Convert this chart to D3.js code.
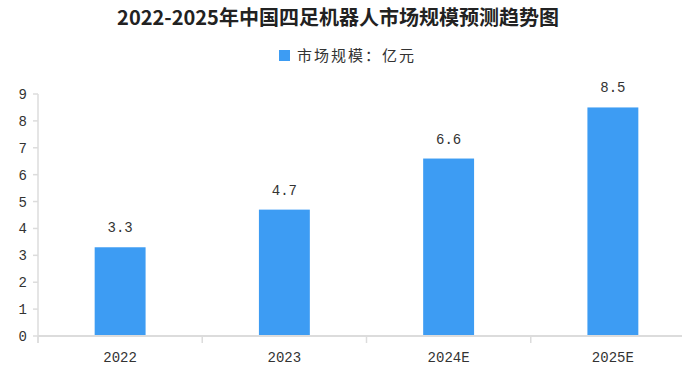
<!DOCTYPE html>
<html>
<head>
<meta charset="utf-8">
<script src="https://cdn.jsdelivr.net/npm/d3@7"></script>
<style>
  body { margin: 0; background: #fff; }
  .chart { width: 682px; height: 373px; overflow: hidden; }
  text { fill: #333; }
</style>
</head>
<body>
<div class="chart"></div>
<script>
// DATA *************************************************************
var titleText = '2022-2025年中国四足机器人市场规模预测趋势图';
var legendLabel = '市场规模：亿元';
var years = ['2022', '2023', '2024E', '2025E'];
var marketSize = [3.3, 4.7, 6.6, 8.5];
var yTicks = [0, 1, 2, 3, 4, 5, 6, 7, 8, 9];

var BAR_COLOR = '#3d9cf3';
var AXIS_COLOR = '#dcdcdc';
var MONO = '"Liberation Mono", "DejaVu Sans Mono", monospace';
var CJK = '"Noto Sans CJK SC", sans-serif';

// MARGINS
var W = 682, H = 373;
var margin = {top: 94, right: -13, bottom: 37, left: 38};
var width = W - margin.left - margin.right,
    height = H - margin.top - margin.bottom;

var svgRoot = d3.select('.chart').append('svg')
    .attr('width', W)
    .attr('height', H);
var svg = svgRoot.append('g')
    .attr('transform', 'translate(' + margin.left + ',' + margin.top + ')');

// SCALES
var xScale = d3.scaleBand()
    .domain(years)
    .range([0, width]);

var yScale = d3.scaleLinear()
    .domain([0, 9])
    .range([height, 0]);

var barW = xScale.bandwidth() * 0.31;

// TITLE + LEGEND
svgRoot.append('text')
    .attr('x', 338).attr('y', 25)
    .attr('text-anchor', 'middle')
    .style('font-family', CJK)
    .style('font-size', '20px')
    .style('font-weight', 'bold')
    .style('fill', '#222')
    .text(titleText);

svgRoot.append('rect')
    .attr('x', 279).attr('y', 50)
    .attr('width', 11).attr('height', 11)
    .attr('fill', BAR_COLOR);
svgRoot.append('text')
    .attr('x', 297).attr('y', 60.5)
    .style('font-family', CJK)
    .style('font-size', '15px')
    .style('letter-spacing', '2px')
    .text(legendLabel);

// AXES
var xAxisG = svg.append('g')
    .attr('transform', 'translate(0,' + height + ')');
xAxisG.append('line')
    .attr('x1', 0).attr('x2', W)
    .attr('stroke', AXIS_COLOR).attr('stroke-width', 2);
xAxisG.selectAll('.tick-b')
    .data(years)
    .enter().append('line')
    .attr('x1', function(d) { return xScale(d); })
    .attr('x2', function(d) { return xScale(d); })
    .attr('y1', 0).attr('y2', 7)
    .attr('stroke', AXIS_COLOR).attr('stroke-width', 1.5);
xAxisG.selectAll('.xlabel')
    .data(years)
    .enter().append('text')
    .attr('x', function(d) { return xScale(d) + xScale.bandwidth() / 2; })
    .attr('y', 26)
    .attr('text-anchor', 'middle')
    .style('font-family', MONO)
    .style('font-size', '14px')
    .text(function(d) { return d; });

var yAxisG = svg.append('g');
yAxisG.append('line')
    .attr('x1', 0).attr('x2', 0)
    .attr('y1', yScale(9)).attr('y2', height + 7)
    .attr('stroke', AXIS_COLOR).attr('stroke-width', 1.5);
yAxisG.selectAll('.tick-l')
    .data(yTicks)
    .enter().append('line')
    .attr('x1', -5).attr('x2', 0)
    .attr('y1', function(d) { return yScale(d); })
    .attr('y2', function(d) { return yScale(d); })
    .attr('stroke', AXIS_COLOR).attr('stroke-width', 1.5);
yAxisG.selectAll('.ylabel')
    .data(yTicks)
    .enter().append('text')
    .attr('x', -11)
    .attr('y', function(d) { return yScale(d); })
    .attr('dy', '0.36em')
    .attr('text-anchor', 'end')
    .style('font-family', MONO)
    .style('font-size', '14px')
    .text(function(d) { return d; });

// BARS
var bars = svg.append('g');
bars.selectAll('rect')
    .data(marketSize)
    .enter().append('rect')
    .attr('x', function(d, i) { return xScale(years[i]) + (xScale.bandwidth() - barW) / 2; })
    .attr('y', function(d) { return yScale(d); })
    .attr('width', barW)
    .attr('height', function(d) { return height - yScale(d) - 1; })
    .attr('fill', BAR_COLOR);

bars.selectAll('text')
    .data(marketSize)
    .enter().append('text')
    .attr('x', function(d, i) { return xScale(years[i]) + xScale.bandwidth() / 2; })
    .attr('y', function(d) { return yScale(d) - 15; })
    .attr('text-anchor', 'middle')
    .style('font-family', MONO)
    .style('font-size', '14px')
    .text(function(d) { return d.toFixed(1); });
</script>
</body>
</html>
